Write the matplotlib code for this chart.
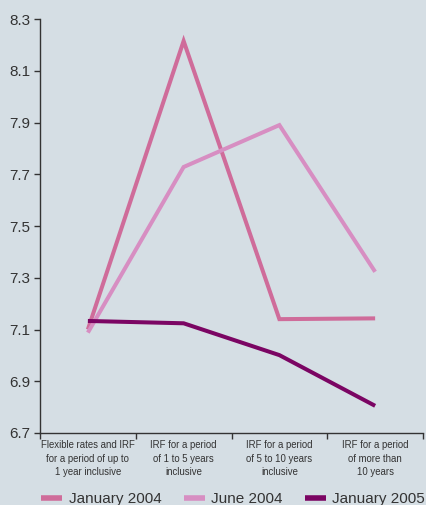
import matplotlib
matplotlib.use("Agg")
import matplotlib.pyplot as plt
from matplotlib.ticker import FixedLocator, NullFormatter, FixedFormatter

categories = [
    "Flexible rates and IRF\nfor a period of up to\n1 year inclusive",
    "IRF for a period\nof 1 to 5 years\ninclusive",
    "IRF for a period\nof 5 to 10 years\ninclusive",
    "IRF for a period\nof more than\n10 years",
]
jan_2004 = [7.10, 8.215, 7.14, 7.143]
jun_2004 = [7.088, 7.728, 7.89, 7.323]
jan_2005 = [7.133, 7.124, 7.001, 6.805]
series_names = ["January 2004", "June 2004", "January 2005"]
y_ticks = [6.7, 6.9, 7.1, 7.3, 7.5, 7.7, 7.9, 8.1, 8.3]

bg = "#d5dee4"
colors = ["#cf6c9a", "#d78ec2", "#7b0563"]
text_color = "#333333"
sans = ["Liberation Sans", "DejaVu Sans"]

fig = plt.figure(figsize=(4.26, 5.05), dpi=100, facecolor=bg)
ax = fig.add_axes([40 / 426, 1 - 433 / 505, 383 / 426, 414 / 505], facecolor=bg)

x = list(range(len(categories)))
for vals, name, c in zip([jan_2004, jun_2004, jan_2005], series_names, colors):
    ax.plot(x, vals, color=c, lw=2.9, label=name, solid_capstyle="butt",
            solid_joinstyle="miter")

ax.set_xlim(-0.5, len(categories) - 0.5)
ax.set_ylim(6.7, 8.3)
ax.set_yticks(y_ticks)
ax.set_yticklabels([f"{v:.1f}" for v in y_ticks], family=sans)

# boundary ticks between categories, labels centred on categories
ax.xaxis.set_major_locator(FixedLocator([i - 0.5 for i in range(len(categories) + 1)]))
ax.xaxis.set_major_formatter(NullFormatter())
ax.xaxis.set_minor_locator(FixedLocator(x))
ax.xaxis.set_minor_formatter(FixedFormatter(categories))
ax.tick_params(axis="x", which="major", length=4, width=1, color=text_color, direction="out")
ax.tick_params(axis="x", which="minor", length=0, pad=5, labelsize=6.9, labelcolor=text_color)
for lbl in ax.xaxis.get_minorticklabels():
    lbl.set_family(sans)
    lbl.set_horizontalalignment("center")
    lbl.set_linespacing(1.45)
ax.tick_params(axis="y", length=4, width=1, color=text_color, labelsize=11,
               labelcolor=text_color, pad=3)

for s in ["top", "right"]:
    ax.spines[s].set_visible(False)
for s in ["left", "bottom"]:
    ax.spines[s].set_color(text_color)
    ax.spines[s].set_linewidth(1.0)

leg = fig.legend(loc="center", bbox_to_anchor=(233 / 426, 1 - 499 / 505), ncol=3,
                 frameon=False, prop={"family": sans, "size": 11},
                 handlelength=1.4, handletextpad=0.4,
                 columnspacing=1.45, borderaxespad=0, borderpad=0)
for t in leg.get_texts():
    t.set_color(text_color)
for h in leg.get_lines():
    h.set_linewidth(4)

fig.savefig("out.png", dpi=100, facecolor=bg)
